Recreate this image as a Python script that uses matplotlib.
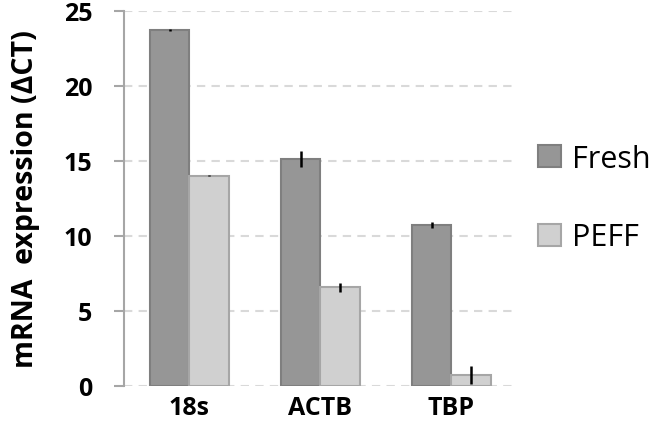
import matplotlib
matplotlib.use("Agg")
import matplotlib.pyplot as plt
import numpy as np

categories = ["18s", "ACTB", "TBP"]
fresh = [23.7, 15.1, 10.7]
fresh_err = [0.05, 0.53, 0.2]
peff = [14.0, 6.55, 0.7]
peff_err = [0.05, 0.27, 0.6]
yticks = [0, 5, 10, 15, 20, 25]

plt.rcParams['font.family'] = ['Open Sans', 'DejaVu Sans']

fig = plt.figure(figsize=(6.53, 4.31), dpi=100)
ax = fig.add_axes([124/653, 1-386.7/431, (516.7-124)/653, 375/431])

x = np.arange(len(categories))
w = 0.30
ax.bar(x - w/2, fresh, w, color="#969696", edgecolor="#7f7f7f", linewidth=1.5,
       yerr=fresh_err, error_kw=dict(ecolor="black", elinewidth=1.8, capsize=0), label="Fresh", zorder=3)
ax.bar(x + w/2, peff, w, color="#d0d0d0", edgecolor="#a6a6a6", linewidth=1.5,
       yerr=peff_err, error_kw=dict(ecolor="black", elinewidth=1.8, capsize=0), label="PEFF", zorder=3)

ax.set_xlim(-0.5, 2.5)
ax.set_ylim(0, 25)
ax.set_yticks(yticks)
ax.set_yticklabels([str(t) for t in yticks], fontsize=18, fontweight="bold")
ax.set_xticks(x)
ax.set_xticklabels(categories, fontsize=18, fontweight="bold")
ax.tick_params(axis="x", length=0, pad=7)
ax.tick_params(axis="y", length=7, width=1.5, color="#a6a6a6", pad=16)
ax.yaxis.grid(True, linestyle=(0, (4, 3)), color="#d9d9d9", linewidth=1.5, zorder=0)
ax.set_axisbelow(True)
for s in ["top", "right", "bottom"]:
    ax.spines[s].set_visible(False)
ax.spines["left"].set_color("#a6a6a6")
ax.spines["left"].set_linewidth(1.5)

ax.set_ylabel("mRNA  expression (ΔCT)", fontsize=20.5, fontweight="bold")
ax.yaxis.set_label_coords(-(124-40)/(516.7-124), 0.5)

leg = ax.legend(loc="center left", bbox_to_anchor=(538/653, 1-199/431), bbox_transform=fig.transFigure,
                frameon=False, fontsize=22, borderpad=0, borderaxespad=0,
                handlelength=0.75, handleheight=0.75, labelspacing=1.6, handletextpad=0.35)

fig.savefig("out.png", dpi=100)
